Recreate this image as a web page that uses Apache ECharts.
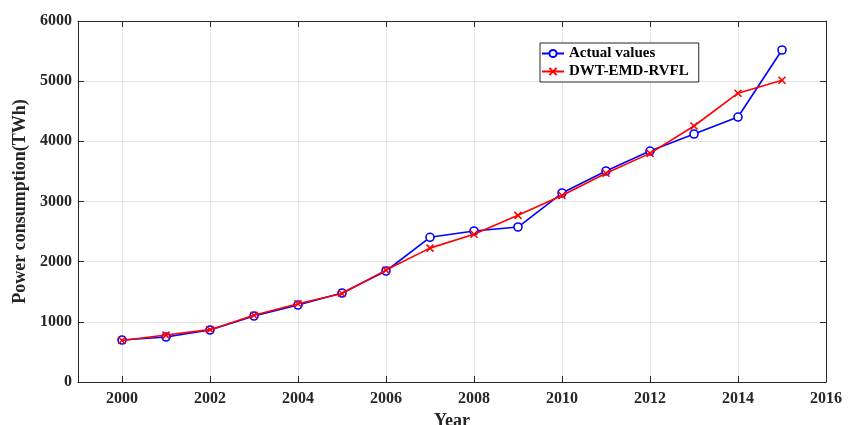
<!DOCTYPE html>
<html>
<head>
<meta charset="utf-8">
<script src="https://cdn.jsdelivr.net/npm/echarts@6/dist/echarts.min.js"></script>
<style>
  html, body { margin: 0; padding: 0; background: #fff; }
  #chart { width: 856px; height: 425px; }
</style>
</head>
<body>
<div id="chart"></div>
<script>
// Annual power consumption, actual vs. DWT-EMD-RVFL forecast
const years = [2000, 2001, 2002, 2003, 2004, 2005, 2006, 2007, 2008, 2009, 2010, 2011, 2012, 2013, 2014, 2015];
const actualValues = [698, 748, 864, 1097, 1280, 1479, 1845, 2405, 2510, 2576, 3141, 3507, 3839, 4122, 4404, 5518];
const forecastValues = [690, 780, 870, 1110, 1300, 1470, 1860, 2225, 2455, 2770, 3100, 3470, 3800, 4255, 4800, 5015];
const yearTicks = [2000, 2002, 2004, 2006, 2008, 2010, 2012, 2014, 2016];

const FONT = '"Liberation Serif", "Times New Roman", serif';
const labelStyle = { fontFamily: FONT, fontWeight: 'bold', fontSize: 16, color: '#262626' };
const nameStyle = { fontFamily: FONT, fontWeight: 'bold', fontSize: 18, color: '#262626' };

const pair = (xs, ys) => xs.map((x, i) => [x, ys[i]]);
const plain = v => String(v);

const chart = echarts.init(document.getElementById('chart'), null, { renderer: 'canvas' });

const xCommon = {
  type: 'value', min: 1999, max: 2016,
  axisLine: { show: true, onZero: false, lineStyle: { color: '#262626', width: 1 } },
  splitLine: { show: false }
};
const yCommon = {
  type: 'value', min: 0, max: 6000, interval: 1000,
  axisLine: { show: true, lineStyle: { color: '#262626', width: 1 } }
};

chart.setOption({
  animation: false,
  backgroundColor: '#ffffff',
  grid: { left: 78, right: 30, top: 21, bottom: 43, containLabel: false, outerBoundsMode: 'none' },
  legend: {
    orient: 'vertical',
    left: 540, top: 43,
    backgroundColor: '#ffffff',
    borderColor: '#262626', borderWidth: 1,
    padding: [3, 10, 3, 1],
    itemGap: 3,
    itemWidth: 22, itemHeight: 9,
    textStyle: { fontFamily: FONT, fontWeight: 'bold', fontSize: 15, color: '#000' },
    data: ['Actual values', 'DWT-EMD-RVFL']
  },
  xAxis: [
    Object.assign({}, xCommon, {
      position: 'bottom',
      name: 'Year', nameLocation: 'middle', nameGap: 27,
      nameTextStyle: nameStyle,
      axisTick: { show: true, inside: true, length: 6, customValues: yearTicks, lineStyle: { color: '#262626' } },
      axisLabel: Object.assign({ margin: 9, customValues: yearTicks, formatter: plain }, labelStyle)
    }),
    Object.assign({}, xCommon, {
      position: 'top',
      axisTick: { show: true, inside: true, length: 6, customValues: yearTicks, lineStyle: { color: '#262626' } },
      axisLabel: { show: false }
    })
  ],
  yAxis: [
    Object.assign({}, yCommon, {
      position: 'left',
      name: 'Power consumption(TWh)', nameLocation: 'middle', nameGap: 43,
      nameTextStyle: nameStyle,
      axisTick: { show: true, inside: true, length: 6, lineStyle: { color: '#262626' } },
      axisLabel: Object.assign({ margin: 6, formatter: plain }, labelStyle),
      splitLine: { show: true, lineStyle: { color: '#e3e3e3', width: 1 } }
    }),
    Object.assign({}, yCommon, {
      position: 'right',
      axisTick: { show: true, inside: true, length: 6, lineStyle: { color: '#262626' } },
      axisLabel: { show: false },
      splitLine: { show: false }
    })
  ],
  series: [
    {
      name: 'Actual values', type: 'line',
      data: pair(years, actualValues),
      z: 3,
      symbol: 'circle', symbolSize: 8, showAllSymbol: true,
      lineStyle: { color: '#0000ff', width: 1.6 },
      itemStyle: { color: '#ffffff', borderColor: '#0000ff', borderWidth: 1.6 },
      // vertical grid lines at the labelled years
      markLine: {
        silent: true, symbol: 'none', z: 0,
        label: { show: false },
        lineStyle: { color: '#e3e3e3', width: 1, type: 'solid' },
        data: yearTicks.slice(0, -1).map(y => ({ xAxis: y }))
      }
    },
    {
      name: 'DWT-EMD-RVFL', type: 'line',
      data: pair(years, forecastValues),
      z: 4,
      symbol: 'path://M0,0L10,10M10,0L0,10', symbolSize: 7, showAllSymbol: true,
      lineStyle: { color: '#ff0000', width: 1.6 },
      itemStyle: { color: 'none', borderColor: '#ff0000', borderWidth: 1.6 }
    }
  ]
});
</script>
</body>
</html>
